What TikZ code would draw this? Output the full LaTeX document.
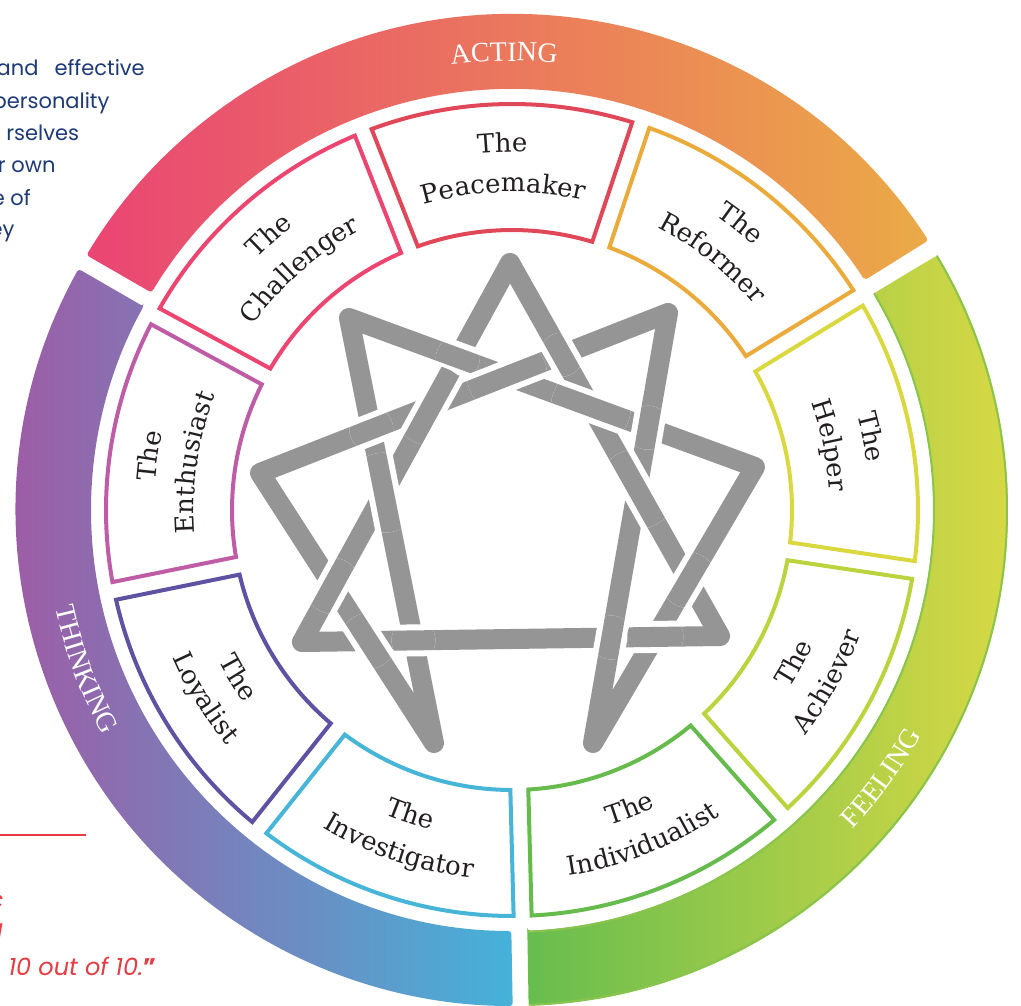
\documentclass[tikz,border=0pt]{standalone}
\usepackage{fontspec}
\usepackage{tikz}
\usetikzlibrary{decorations.text}

\newfontfamily\slabfont{DejaVu Serif}
\newfontfamily\bodyfont{Poppins}
\newfontfamily\ringfont{Liberation Serif}

\definecolor{ink}{HTML}{231F20}
\definecolor{stargray}{HTML}{959595}
\definecolor{navy}{HTML}{1E3A78}
\definecolor{quotered}{HTML}{E63C43}
% cell outlines
\definecolor{cPeace}{HTML}{E0485A}
\definecolor{cReform}{HTML}{EBAB3C}
\definecolor{cHelp}{HTML}{DAD83F}
\definecolor{cAchieve}{HTML}{BBD33C}
\definecolor{cIndiv}{HTML}{66BB4C}
\definecolor{cInvest}{HTML}{47B5D7}
\definecolor{cLoyal}{HTML}{5E52A3}
\definecolor{cEnth}{HTML}{BE5CA6}
\definecolor{cChall}{HTML}{EC4570}
% outer ring
\definecolor{actL}{HTML}{EA4574}
\definecolor{actR}{HTML}{EBAA47}
\definecolor{feelL}{HTML}{67BD4F}
\definecolor{feelR}{HTML}{D9D944}
\definecolor{thinkL}{HTML}{A9519F}
\definecolor{thinkM}{HTML}{5B4FA2}
\definecolor{thinkR}{HTML}{45B2D9}

\newcommand{\cellfont}{\color{ink}\slabfont\fontsize{26}{28}\selectfont}
\newcommand{\ringlabel}{\color{white}\ringfont\fontsize{28}{30}\selectfont}

\tikzset{
  star/.style={draw=stargray, line width=20pt, line join=round},
  gap/.style={draw=white, line width=32pt},
  cell/.style={line width=4, line join=miter},
  textarc/.style={decorate, decoration={text along path, text align=center, text={#1}}},
  prose/.style={anchor=base east, text=navy, font=\bodyfont\fontsize{21}{24}\selectfont},
  quote/.style={text=quotered, font=\bodyfont\itshape\fontsize{24}{28}\selectfont}
}

% one box of the inner ring, centred on angle #1
\newcommand{\cellbox}[2]{%
  \draw[cell, draw=#2] (#1+20-1.84:280) -- (#1+20-1.27:406)
    arc[start angle=#1+20-1.27, end angle=#1-20+1.27, radius=406]
    -- (#1-20+1.84:280)
    arc[start angle=#1-20+1.84, end angle=#1+20-1.84, radius=280] -- cycle;}
% labels in the upper boxes run clockwise
\newcommand{\uplabel}[2]{%
  \path[textarc={|\cellfont|The}] (#1+19:358) arc[start angle=#1+19, end angle=#1-19, radius=358];
  \path[textarc={|\cellfont|#2}] (#1+19:318) arc[start angle=#1+19, end angle=#1-19, radius=318];}
% labels in the lower boxes run anticlockwise
\newcommand{\downlabel}[2]{%
  \path[textarc={|\cellfont|The}] (#1-19:330) arc[start angle=#1-19, end angle=#1+19, radius=330];
  \path[textarc={|\cellfont|#2}] (#1-19:370) arc[start angle=#1-19, end angle=#1+19, radius=370];}
% band #1--#2 passes over band #3--#4, redrawn within radius #5 of the crossing
\newcommand{\starover}[5]{%
  \begin{scope}
    \clip (intersection of #1--#2 and #3--#4) circle (#5);
    \draw[gap] (#1) -- (#2);
    \draw[star] (#1) -- (#2);
  \end{scope}}

\begin{document}
\begin{tikzpicture}[x=1pt, y=1pt]
  \fill[white] (-512,-495) rectangle (509,510);
  \useasboundingbox (-512,-495) rectangle (509,510);

  % outer ring
  \shade[left color=actL, right color=actR, rounded corners=3]
    (33.09:421) -- (32.92:496) arc[start angle=32.92, end angle=149.08, radius=496]
    -- (148.91:421) arc[start angle=148.91, end angle=33.09, radius=421] -- cycle;
  \shade[left color=feelL, right color=feelR, rounded corners=3]
    (-87.91:421) -- (-88.08:496) arc[start angle=-88.08, end angle=30.92, radius=496]
    -- (30.91:421) arc[start angle=30.91, end angle=-87.91, radius=421] -- cycle;
  \draw[feelL!70!feelR, line width=2]
    (-88.08:495) arc[start angle=-88.08, end angle=30.92, radius=495];
  \draw[feelL!70!feelR, line width=2]
    (-87.91:422) arc[start angle=-87.91, end angle=30.91, radius=422];
  \shade[left color=thinkL, middle color=thinkM, right color=thinkR, rounded corners=3]
    (151.09:421) -- (150.92:496) arc[start angle=150.92, end angle=270.08, radius=496]
    -- (269.91:421) arc[start angle=269.91, end angle=151.09, radius=421] -- cycle;

  \path[textarc={|\ringlabel|ACTING}] (116:449) arc[start angle=116, end angle=66, radius=449];
  \path[textarc={|\ringlabel|FEELING}] (-61:467) arc[start angle=-61, end angle=-11, radius=467];
  \path[textarc={|\ringlabel|THINKING}] (175:467) arc[start angle=175, end angle=226, radius=467];

  % inner ring of nine types
  \cellbox{91.5}{cPeace}   \uplabel{91.5}{Peacemaker}
  \cellbox{51.5}{cReform}  \uplabel{51.5}{Reformer}
  \cellbox{11.5}{cHelp}    \uplabel{11.5}{Helper}
  \cellbox{-28.5}{cAchieve} \downlabel{-28.5}{Achiever}
  \cellbox{-68.5}{cIndiv}  \downlabel{-68.5}{Individualist}
  \cellbox{-108.5}{cInvest} \downlabel{-108.5}{Investigator}
  \cellbox{-148.5}{cLoyal} \downlabel{-148.5}{Loyalist}
  \cellbox{171.5}{cEnth}   \uplabel{171.5}{Enthusiast}
  \cellbox{131.5}{cChall}  \uplabel{131.5}{Challenger}

  % enneagram
  \coordinate (V9) at (-2,247);
  \coordinate (V1) at (156,197);
  \coordinate (V2) at (243,43);
  \coordinate (V3) at (208,-126);
  \coordinate (V4) at (81,-233);
  \coordinate (V5) at (-78,-233);
  \coordinate (V6) at (-210,-132);
  \coordinate (V7) at (-252,37);
  \coordinate (V8) at (-163,192);
  \draw[star] (V9) -- (V3) -- (V6) -- cycle;
  \draw[star] (V1) -- (V4) -- (V2) -- (V8) -- (V5) -- (V7) -- cycle;
  \starover{V2}{V8}{V9}{V6}{22}
  \starover{V9}{V6}{V7}{V1}{40}
  \starover{V8}{V5}{V9}{V6}{40}
  \starover{V9}{V6}{V5}{V7}{28}
  \starover{V7}{V1}{V2}{V8}{40}
  \starover{V2}{V8}{V9}{V3}{40}
  \starover{V1}{V4}{V2}{V8}{22}
  \starover{V7}{V1}{V8}{V5}{22}
  \starover{V9}{V3}{V7}{V1}{22}
  \starover{V9}{V3}{V1}{V4}{40}
  \starover{V4}{V2}{V9}{V3}{28}
  \starover{V5}{V7}{V3}{V6}{28}
  \starover{V3}{V6}{V8}{V5}{22}
  \starover{V1}{V4}{V3}{V6}{22}
  \starover{V3}{V6}{V4}{V2}{28}

  % page text around the wheel
  \node[prose] (p1) at (-363.7,434) {and\hspace{16pt}effective};
  \node[prose] (p2) at (-399,401.7) {personality};
  \node[prose] (p3) at (-429.3,370) {rselves};
  \node[prose] (p4) at (-453,337.7) {r own};
  \node[prose] (p5) at (-477.7,305) {e of};
  \node[prose] (p6) at (-494,273.3) {ey};

  \coordinate (r0) at (-512,-325);
  \coordinate (r1) at (-426,-325);
  \draw[quotered, line width=1.5] (r0) -- (r1);
  \node[quote, anchor=base east] (q1) at (-505,-398) {c};
  \node[quote, anchor=base east] (q2) at (-506,-431) {l};
  \node[quote, anchor=base west] (q3) at (-507,-465) {10 out of 10.{\upshape\bfseries ”}};
\end{tikzpicture}
\end{document}
